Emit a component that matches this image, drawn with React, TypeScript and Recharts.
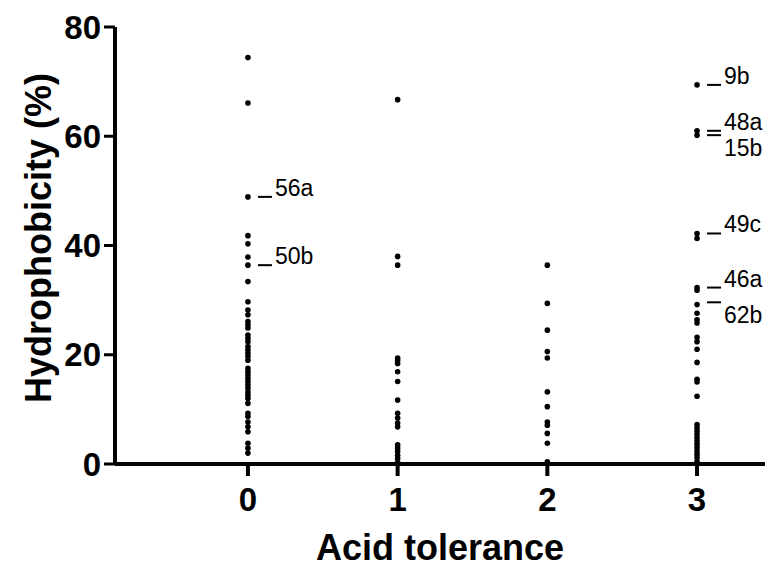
import { Scatter, ScatterChart, XAxis, YAxis } from "recharts";

// acid tolerance classes
const categories = [0, 1, 2, 3];

// hydrophobicity (%) of each isolate, per class
const class0Values = [
  74.4, 66.1, 48.9, 41.8, 40.3, 37.9, 36.4, 33.4, 29.7, 28.2, 27.3, 26.1, 25.5, 24.9, 23.6, 23.0,
  22.4, 21.5, 20.9, 20.3, 19.7, 19.0, 17.5, 16.9, 16.3, 15.7, 15.1, 14.5, 13.9, 13.2, 12.6, 12.0,
  11.1, 9.3, 8.7, 7.7, 6.8, 5.9, 3.8, 2.9, 2.0,
];
const class1Values = [66.7, 38.0, 36.4, 19.4, 19.0, 18.4, 16.9, 15.1, 11.7, 9.3, 8.4, 7.5, 6.8, 3.5, 2.9, 2.3, 1.6, 1.0, 0.3];
const class2Values = [36.4, 29.4, 24.5, 20.6, 19.4, 13.2, 10.5, 7.7, 7.1, 5.6, 3.8, 0.4];
const class3Values = [
  69.4, 61.0, 60.2, 42.2, 41.3, 32.3, 31.8, 29.2, 27.6, 26.4, 25.8, 23.2, 22.4, 21.0, 18.6, 15.5,
  15.0, 12.4, 7.2, 6.6, 6.0, 5.4, 4.8, 4.2, 3.6, 3.0, 2.4, 1.8, 1.2, 0.5,
];

// named isolates
const strainNames = ["56a", "50b", "9b", "48a", "15b", "49c", "46a", "62b"];
const strainClass = [0, 0, 3, 3, 3, 3, 3, 3];
const strainValues = [48.9, 36.4, 69.4, 61.0, 60.2, 42.2, 32.3, 29.6];
const strainTextBelow = [false, false, false, false, true, false, false, true];

const yTicks = [0, 20, 40, 60, 80];

const FONT = "'Liberation Sans', Arial, Helvetica, sans-serif";

const points = [class0Values, class1Values, class2Values, class3Values].flatMap((vals, i) =>
  vals.map((v) => ({ x: categories[i], y: v }))
);

const strains = strainNames.map((name, i) => ({
  x: strainClass[i],
  y: strainValues[i],
  name,
  below: strainTextBelow[i],
}));

function Dot(props: any) {
  const { cx, cy } = props;
  return <circle cx={cx} cy={cy} r={2.8} fill="#000" />;
}

function StrainTag(props: any) {
  const { cx, cy, payload } = props;
  const below = payload.below;
  return (
    <g>
      <line x1={cx + 10} x2={cx + 24} y1={cy} y2={cy} stroke="#000" strokeWidth={2} />
      <text
        x={cx + 27}
        y={below ? cy + 21 : cy - 1}
        fontSize={23}
        fontFamily={FONT}
        fill="#000"
      >
        {payload.name}
      </text>
    </g>
  );
}

export default function App() {
  return (
    <div style={{ position: "absolute", left: 0, top: 0, background: "#fff" }}>
      <ScatterChart width={765} height={568} margin={{ top: 27, right: 0, bottom: 0, left: 0 }}>
        <XAxis
          type="number"
          dataKey="x"
          domain={[-0.888, 3.454]}
          ticks={categories}
          allowDataOverflow
          height={104}
          axisLine={{ stroke: "#000", strokeWidth: 4 }}
          tickLine={{ stroke: "#000", strokeWidth: 4 }}
          tickSize={12}
          tickMargin={12}
          tick={{ fill: "#000", fontSize: 33, fontWeight: "bold", fontFamily: FONT }}
          label={{
            value: "Acid tolerance",
            position: "insideBottom",
            offset: 8,
            style: { fill: "#000", fontSize: 36, fontWeight: "bold", fontFamily: FONT },
          }}
        />
        <YAxis
          type="number"
          dataKey="y"
          domain={[0, 80]}
          ticks={yTicks}
          width={115}
          axisLine={{ stroke: "#000", strokeWidth: 4 }}
          tickLine={{ stroke: "#000", strokeWidth: 3 }}
          tickSize={11}
          tickMargin={3}
          tick={{ fill: "#000", fontSize: 33, fontWeight: "bold", fontFamily: FONT }}
          label={{
            content: () => (
              <text
                x={38}
                y={238}
                transform="rotate(-90, 38, 238)"
                textAnchor="middle"
                dominantBaseline="central"
                fill="#000"
                fontSize={36}
                fontWeight="bold"
                fontFamily={FONT}
              >
                Hydrophobicity (%)
              </text>
            ),
          }}
        />
        <Scatter data={points} shape={<Dot />} isAnimationActive={false} />
        <Scatter data={strains} shape={<StrainTag />} isAnimationActive={false} />
      </ScatterChart>
    </div>
  );
}
